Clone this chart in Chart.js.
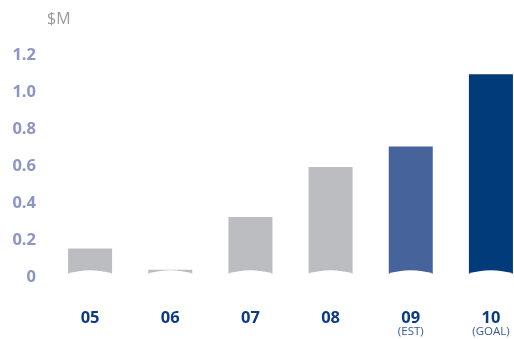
<!DOCTYPE html>
<html>
<head>
<meta charset="utf-8">
<script src="https://cdn.jsdelivr.net/npm/chart.js@4.4.1/dist/chart.umd.min.js"></script>
<style>
  html, body { margin: 0; padding: 0; background: #fff; overflow: hidden; }
  #wrap { position: relative; width: 531px; height: 339px; }
</style>
</head>
<body>
<div id="wrap"><canvas id="c"></canvas></div>
<script>
const categories = ['05', '06', '07', '08', '09', '10'];
const subLabels = ['', '', '', '', '(EST)', '(GOAL)'];
const values = [0.14, 0.025, 0.31, 0.58, 0.69, 1.08];
const barColors = ['#bcbdc1', '#bcbdc1', '#bcbdc1', '#bcbdc1', '#46639b', '#023b79'];
const yTicks = [0, 0.2, 0.4, 0.6, 0.8, 1.0, 1.2];
const unitLabel = '$M';

const FONT = "'Open Sans', 'Noto Sans', sans-serif";

const curvedBase = {
  id: 'curvedBase',
  afterDatasetsDraw(chart) {
    const ctx = chart.ctx;
    const meta = chart.getDatasetMeta(0);
    ctx.save();
    ctx.fillStyle = '#ffffff';
    meta.data.forEach(bar => {
      const p = bar.getProps(['x', 'width', 'base'], true);
      const l = p.x - p.width / 2 - 1, r = p.x + p.width / 2 + 1;
      const y0 = p.base - 0.5;
      ctx.beginPath();
      ctx.moveTo(l, y0 + 3);
      ctx.lineTo(l, y0);
      ctx.quadraticCurveTo(p.x, y0 - 7.5, r, y0);
      ctx.lineTo(r, y0 + 3);
      ctx.closePath();
      ctx.fill();
    });
    ctx.restore();
  },
  afterDraw(chart) {
    const ctx = chart.ctx;
    const xs = chart.scales.x;
    ctx.save();
    ctx.textAlign = 'left';
    ctx.textBaseline = 'middle';
    ctx.fillStyle = '#9a9a9a';
    ctx.font = "16px " + FONT;
    ctx.fillText(unitLabel, chart.chartArea.left - 3, 19);
    ctx.textAlign = 'center';
    ctx.fillStyle = '#3a5a96';
    ctx.font = "11.5px " + FONT;
    subLabels.forEach((s, i) => {
      if (s) ctx.fillText(s, xs.getPixelForValue(i), 332);
    });
    ctx.restore();
  }
};

new Chart(document.getElementById('c'), {
  type: 'bar',
  data: {
    labels: categories,
    datasets: [{
      data: values,
      backgroundColor: barColors,
      borderWidth: 0,
      barPercentage: 0.549,
      categoryPercentage: 1.0
    }]
  },
  options: {
    responsive: true,
    maintainAspectRatio: false,
    animation: false,
    events: [],
    layout: { padding: { top: 52, left: 0, right: 0, bottom: 0 } },
    plugins: { legend: { display: false }, tooltip: { enabled: false } },
    scales: {
      x: {
        grid: { display: false },
        border: { display: false },
        ticks: {
          color: '#0d3b82',
          font: { family: FONT, size: 16.5, weight: 'bold' },
          padding: 26,
          maxRotation: 0
        },
        afterFit(scale) { scale.height = 64.5; }
      },
      y: {
        min: 0,
        max: 1.2,
        grid: { display: false },
        border: { display: false },
        afterBuildTicks(scale) { scale.ticks = yTicks.map(v => ({ value: v })); },
        ticks: {
          color: '#8d95c6',
          font: { family: FONT, size: 16.5, weight: 'bold' },
          padding: 6,
          labelOffset: 3,
          callback: v => (v === 0 ? '0' : v.toFixed(1))
        },
        afterFit(scale) { scale.width = 50; }
      }
    }
  },
  plugins: [curvedBase]
});
</script>
</body>
</html>
